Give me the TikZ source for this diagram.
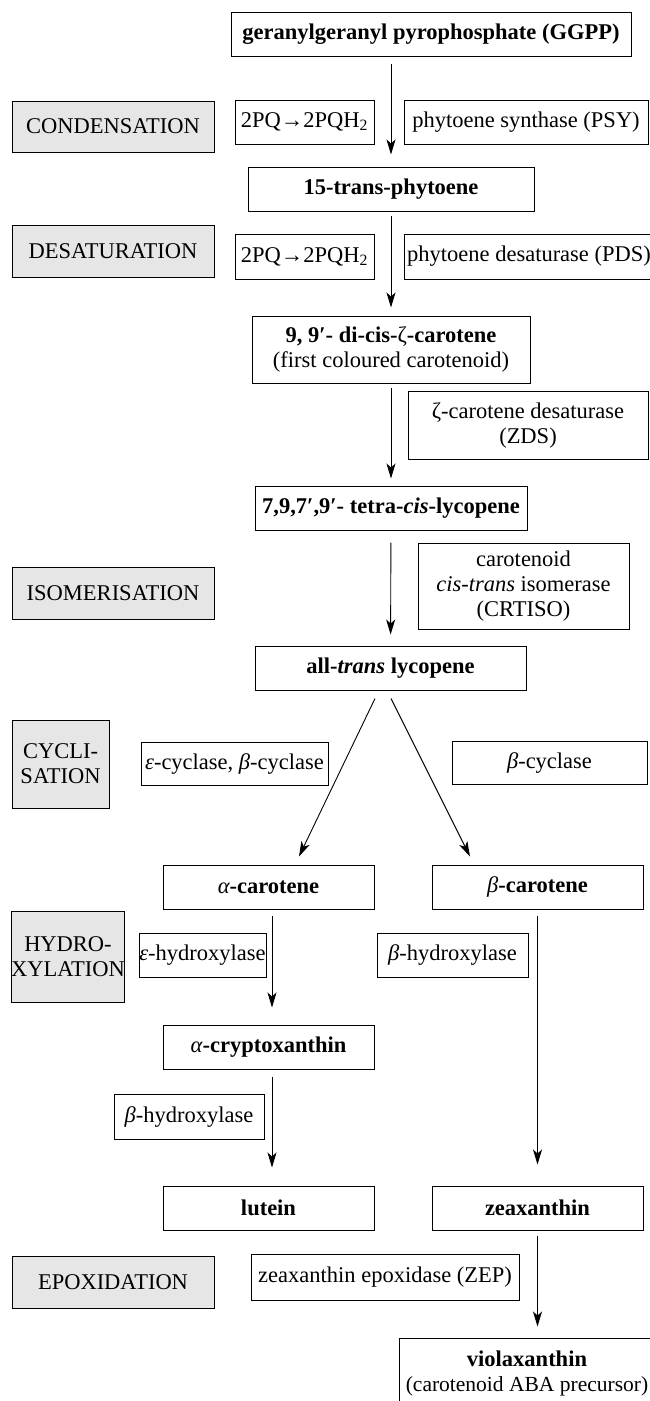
\documentclass[tikz,border=0pt]{standalone}
\usepackage{fontspec}
\setmainfont{Liberation Serif}
\usetikzlibrary{arrows.meta}
\usetikzlibrary{calc}
\definecolor{stagegray}{RGB}{230,230,230}
\newcommand{\diafont}{\fontsize{22.5}{25}\selectfont}

\tikzset{
  prod/.style={draw, line width=1pt, inner sep=0pt, align=center, font=\diafont\bfseries},
  enz/.style={draw, line width=0.9pt, inner sep=0pt, align=center, font=\diafont},
  stage/.style={draw, fill=stagegray, line width=0.9pt, inner sep=0pt, align=center, font=\diafont},
  flow/.style={-{Stealth[length=15pt,width=9pt,inset=4pt]}, line width=0.9pt, shorten <=5pt, shorten >=8pt},
}

\begin{document}
\begin{tikzpicture}[x=1pt, y=-1pt]
\useasboundingbox (0,0) rectangle (649,1401);

%---------------------------------------
% Stages (grey boxes)
%---------------------------------------
\node[stage, minimum width=202pt, minimum height=51pt] (cond)  at (113,126.5) {CONDENSATION};
\node[stage, minimum width=202pt, minimum height=52pt] (desat) at (113,251)   {DESATURATION};
\node[stage, minimum width=202pt, minimum height=52pt] (isom)  at (113,593)   {ISOMERISATION};
\node[stage, minimum width=97pt,  minimum height=88pt] (cycl)  at (60.5,764)  {CYCLI-\\SATION};
\node[stage, minimum width=112pt, minimum height=91pt] (hydr)  at (68,956.5)  {HYDRO-\\XYLATION};
\node[stage, minimum width=202pt, minimum height=52pt] (epox)  at (113,1282)  {EPOXIDATION};

%---------------------------------------
% Enzymes
%---------------------------------------
\node[enz, minimum width=139pt, minimum height=44pt] (pqA)   at (304.5,122)   {2PQ→2PQH\textsubscript{2}};
\node[enz, minimum width=244pt, minimum height=44pt] (psy)   at (526,122)     {phytoene synthase (PSY)};
\node[enz, minimum width=139pt, minimum height=45pt] (pqB)   at (304.5,256.5) {2PQ→2PQH\textsubscript{2}};
\node[enz, minimum width=250pt, minimum height=45pt] (pds)   at (529,256.5)   {phytoene desaturase (PDS)};
\node[enz, minimum width=240pt, minimum height=68pt] (zds)   at (528,425)     {ζ-carotene desaturase\\(ZDS)};
\node[enz, minimum width=211pt, minimum height=86pt] (crt)   at (523.5,586)   {carotenoid\\\textit{cis-trans} isomerase\\(CRTISO)};
\node[enz, minimum width=187pt, minimum height=43pt] (cycAB) at (234.5,763.5) {\textit{ε}-cyclase, \textit{β}-cyclase};
\node[enz, minimum width=195pt, minimum height=43pt] (cycB)  at (549.5,762.5) {\textit{β}-cyclase};
\node[enz, minimum width=127pt, minimum height=44pt] (hydE)  at (202.5,955)   {\textit{ε}-hydroxylase};
\node[enz, minimum width=151pt, minimum height=44pt] (hydB)  at (452.5,955)   {\textit{β}-hydroxylase};
\node[enz, minimum width=150pt, minimum height=45pt] (hydBb) at (189,1116.5)  {\textit{β}-hydroxylase};
\node[enz, minimum width=268pt, minimum height=46pt] (zep)   at (385,1277)    {zeaxanthin epoxidase (ZEP)};

%---------------------------------------
% Carotenoids
%---------------------------------------
\node[prod, minimum width=400pt, minimum height=44pt] (ggpp)  at (431,34)      {geranylgeranyl pyrophosphate (GGPP)};
\node[prod, minimum width=286pt, minimum height=44pt] (phyt)  at (391,189)     {15-trans-phytoene};
\node[prod, minimum width=278pt, minimum height=67pt] (dicis) at (391,349.5)   {9, 9′- di-cis-{\mdseries ζ}-carotene\\{\mdseries (first coloured carotenoid)}};
\node[prod, minimum width=272pt, minimum height=44pt] (tetra) at (391,508)     {7,9,7′,9′- tetra-\textit{cis}-lycopene};
\node[prod, minimum width=271pt, minimum height=44pt] (lyc)   at (390.5,668)   {all-\textit{trans} lycopene};
\node[prod, minimum width=211pt, minimum height=44pt] (acar)  at (268.5,887)   {{\mdseries\itshape α}-carotene};
\node[prod, minimum width=211pt, minimum height=44pt] (bcar)  at (537.5,887)   {{\mdseries\itshape β}-carotene};
\node[prod, minimum width=211pt, minimum height=44pt] (acry)  at (268.5,1047)  {{\mdseries\itshape α}-cryptoxanthin};
\node[prod, minimum width=211pt, minimum height=44pt] (lut)   at (268.5,1208)  {lutein};
\node[prod, minimum width=211pt, minimum height=44pt] (zea)   at (537.5,1208)  {zeaxanthin};
\node[prod, minimum width=256pt, minimum height=70pt] (vio)   at (527,1373)    {violaxanthin\\{\mdseries\fontsize{21.5}{25}\selectfont (carotenoid ABA precursor)}};

%---------------------------------------
% Arrows
%---------------------------------------
\draw[flow, shorten <=7pt, shorten >=12pt] (ggpp.south -| phyt.north) -- (phyt.north);
\draw[flow, shorten <=4pt] (phyt) -- (dicis);
\draw[flow, shorten <=4pt, shorten >=7pt] (dicis) -- (tetra);
\draw[flow, shorten <=12pt, shorten >=11pt] (tetra) -- (lyc);

% cyclisation branches
\coordinate (lycL) at ($(lyc.south)+(-15.5,8)$);
\coordinate (lycR) at ($(lyc.south)+(0.5,8)$);
\draw[flow, shorten <=0pt, shorten >=0pt] (lycL) -- ($(acar.north)+(30.5,-8)$);
\draw[flow, shorten <=0pt, shorten >=0pt] (lycR) -- ($(bcar.north)+(-67.5,-8)$);

% alpha branch
\coordinate (acol) at (272,0);
\draw[flow, shorten <=6pt, shorten >=17pt] (acar.south -| acol) -- (acry.north -| acol);
\draw[flow, shorten <=7pt, shorten >=18pt] (acry.south -| acol) -- (lut.north -| acol);

% beta branch
\draw[flow, shorten <=6pt, shorten >=21pt] (bcar) -- (zea);
\draw[flow, shorten <=5pt, shorten >=11pt] (zea.south) -- (zea.south |- vio.north);

\end{tikzpicture}
\end{document}
